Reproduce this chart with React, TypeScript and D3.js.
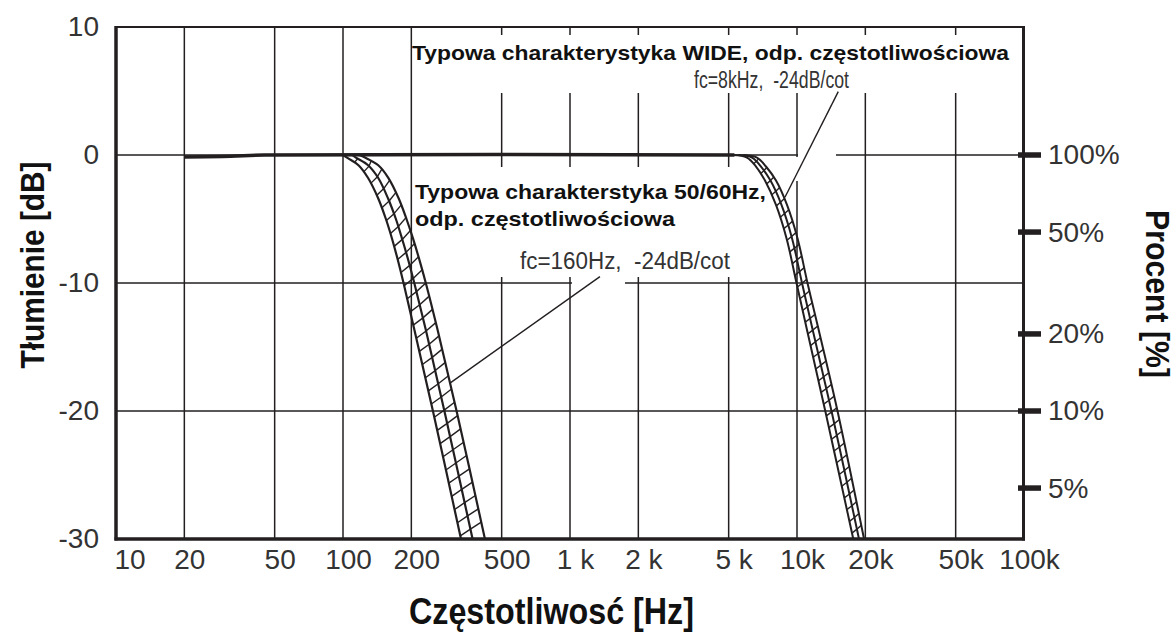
import React, { useEffect, useRef } from 'react'
import * as d3 from 'd3'

const W = 1176
const H = 635

// axes
const freqTicks = [10, 20, 50, 100, 200, 500, 1000, 2000, 5000, 10000, 20000, 50000, 100000]
const freqLabels = ['10', '20', '50', '100', '200', '500', '1 k', '2 k', '5 k', '10k', '20k', '50k', '100k']
const dbTicks = [10, 0, -10, -20, -30]
const pctTicks = [100, 50, 20, 10, 5]

// flat part of both responses (Hz, dB)
const passband = [[20, -0.15], [32, -0.1], [45, 0], [5300, 0]]

// 50/60Hz response, fc=160Hz: lower edge, middle, upper edge
const low50A = [[100, 0], [105, -0.25], [117, -0.8], [129, -1.8], [143, -3.4], [154.5, -5], [164.2, -6.5], [174.4, -8.2], [184.8, -10], [206.5, -13.7], [249, -20], [331, -30]]
const low50B = [[110, 0], [114, -0.2], [129, -0.8], [143, -1.8], [158, -3.4], [171, -5], [182.5, -6.6], [193.8, -8.2], [206.1, -10], [231.9, -13.7], [279.7, -20], [372.3, -30]]
const low50C = [[118, 0], [125, -0.2], [143, -0.8], [158.6, -1.8], [176, -3.4], [190.4, -5], [203.2, -6.5], [216.3, -8.1], [231.6, -10], [261.3, -13.7], [316.5, -20], [422, -30]]

// WIDE response, fc=8kHz
const wideA = [[5200, 0], [6022, -0.2], [6598, -0.9], [7228, -2], [8081, -3.9], [8990, -6.5], [9950, -10], [11045, -13.6], [13322, -20], [17701, -30]]
const wideB = [[5500, 0], [6337, -0.2], [6940, -0.9], [7642, -2], [8544, -3.9], [9506, -6.5], [10520, -10], [11701, -13.6], [14192, -20], [18757, -30]]
const wideC = [[5800, 0], [6665, -0.2], [7302, -0.9], [8081, -2], [9036, -3.9], [10051, -6.5], [11124, -10], [12434, -13.6], [15082, -20], [19740, -30]]

// annotation leader lines (Hz, dB)
const leaderWide = [[15200, 4.95], [8850, -3.3]]
const leader50 = [[1355, -9.5], [297, -17.8]]

const INK = '#231f20'
const FONT = 'Liberation Sans, Arial, sans-serif'

export default function App() {
  const ref = useRef<SVGSVGElement>(null)

  useEffect(() => {
    const svg = d3.select(ref.current)
    svg.selectAll('*').remove()

    const x = d3.scaleLog().domain([10, 100000]).range([116, 1024])
    const y = d3.scaleLinear().domain([-30, 10]).range([539, 27])
    // percent scale tied to the dB scale (20*log10)
    const pct = d3.scaleLog()
      .domain([100 * Math.pow(10, -30 / 20), 100 * Math.pow(10, 10 / 20)])
      .range([539, 27])

    svg.append('rect').attr('width', W).attr('height', H).attr('fill', '#fff')

    // grid
    const grid = svg.append('g').attr('stroke', INK).attr('stroke-width', 1.5)
    grid.selectAll('line.v')
      .data(freqTicks.slice(1, -1))
      .enter().append('line')
      .attr('x1', d => x(d)).attr('x2', d => x(d))
      .attr('y1', y(10)).attr('y2', y(-30))
    grid.selectAll('line.h')
      .data([0, -10, -20])
      .enter().append('line')
      .attr('x1', x(10)).attr('x2', x(100000))
      .attr('y1', d => y(d)).attr('y2', d => y(d))

    // white backgrounds behind annotations
    const masks = [
      [413, 35, 602, 58],
      [413, 167, 357, 110],
      [798, 150, 38, 10],
      [793, 157, 7, 24],
      [572, 278, 53, 10],
    ]
    svg.append('g').selectAll('rect')
      .data(masks)
      .enter().append('rect')
      .attr('x', d => d[0]).attr('y', d => d[1])
      .attr('width', d => d[2]).attr('height', d => d[3])
      .attr('fill', '#fff')

    const line = d3.line<number[]>()
      .x(d => x(d[0]))
      .y(d => y(d[1]))
      .curve(d3.curveCatmullRom.alpha(0.5))

    const plot = svg.append('g')

    plot.append('path')
      .attr('d', line(passband))
      .attr('fill', 'none')
      .attr('stroke', INK)
      .attr('stroke-width', 3.5)

    // three edges of a band plus the ladder hatching between them
    const drawBand = (series: number[][][], width: number, step: number, lag: number) => {
      const g = plot.append('g')
      const paths = series.map(s =>
        g.append('path')
          .attr('d', line(s))
          .attr('fill', 'none')
          .attr('stroke', INK)
          .attr('stroke-width', width)
          .node() as SVGPathElement
      )
      const lens = paths.map(p => p.getTotalLength())
      const n = Math.floor(lens[0] / step)
      for (let i = 1; i <= n; i++) {
        let s = i * step
        let prev = paths[0].getPointAtLength(s)
        for (let k = 1; k < paths.length; k++) {
          s = s * lens[k] / lens[k - 1] - lag
          if (s < 0 || s > lens[k]) break
          const p = paths[k].getPointAtLength(s)
          g.append('line')
            .attr('x1', prev.x).attr('y1', prev.y)
            .attr('x2', p.x).attr('y2', p.y)
            .attr('stroke', INK)
            .attr('stroke-width', 1.4)
          prev = p
        }
      }
    }

    drawBand([low50A, low50B, low50C], 2.2, 13.5, 7)
    drawBand([wideA, wideB, wideC], 2, 12, 4)

    // leader lines
    svg.append('g').selectAll('path')
      .data([leaderWide, leader50])
      .enter().append('path')
      .attr('d', d => d3.line<number[]>().x(p => x(p[0])).y(p => y(p[1]))(d))
      .attr('stroke', INK)
      .attr('stroke-width', 1.4)
      .attr('fill', 'none')

    // frame
    const frame = svg.append('g').attr('stroke', INK)
    frame.append('line').attr('x1', 116).attr('x2', 116).attr('y1', 26).attr('y2', 540.5).attr('stroke-width', 3.5)
    frame.append('line').attr('x1', 114.5).attr('x2', 1025).attr('y1', 539).attr('y2', 539).attr('stroke-width', 3.5)
    frame.append('line').attr('x1', 116).attr('x2', 1024).attr('y1', 27).attr('y2', 27).attr('stroke-width', 2)
    frame.append('line').attr('x1', 1023.5).attr('x2', 1023.5).attr('y1', 26).attr('y2', 540.5).attr('stroke-width', 3)

    // right percent ticks
    frame.selectAll('line.pt')
      .data(pctTicks)
      .enter().append('line')
      .attr('x1', 1018).attr('x2', 1041)
      .attr('y1', d => pct(d)).attr('y2', d => pct(d))
      .attr('stroke-width', 5.5)

    // axis labels
    const yAxis = svg.append('g')
      .attr('transform', 'translate(116,0)')
      .call(d3.axisLeft(y).tickValues(dbTicks).tickSize(0).tickPadding(17).tickFormat(d => String(d)))
    const xAxis = svg.append('g')
      .attr('transform', 'translate(0,539)')
      .call(d3.axisBottom(x).tickValues(freqTicks).tickSize(0).tickPadding(10)
        .tickFormat((d, i) => freqLabels[i]))
    const rAxis = svg.append('g')
      .attr('transform', 'translate(1023,0)')
      .call(d3.axisRight(pct).tickValues(pctTicks).tickSize(0).tickPadding(25).tickFormat(d => d + '%'))

    ;[yAxis, xAxis, rAxis].forEach(a => {
      a.select('.domain').remove()
      a.selectAll('text')
        .attr('font-family', FONT)
        .attr('font-size', 28)
        .attr('fill', '#333')
    })
    xAxis.selectAll('text').attr('dx', 5)
    xAxis.selectAll('text').filter((d, i) => i === 0).attr('text-anchor', 'start').attr('dx', -2)

    // axis titles
    svg.append('text')
      .attr('transform', 'translate(44,265) rotate(-90)')
      .attr('text-anchor', 'middle')
      .attr('font-family', FONT).attr('font-weight', 'bold').attr('font-size', 34)
      .attr('textLength', 207).attr('lengthAdjust', 'spacingAndGlyphs')
      .attr('fill', '#111')
      .text('Tłumienie [dB]')
    svg.append('text')
      .attr('transform', 'translate(1146,294) rotate(90)')
      .attr('text-anchor', 'middle')
      .attr('font-family', FONT).attr('font-weight', 'bold').attr('font-size', 33)
      .attr('textLength', 168).attr('lengthAdjust', 'spacingAndGlyphs')
      .attr('fill', '#111')
      .text('Procent [%]')
    svg.append('text')
      .attr('x', 409).attr('y', 624)
      .attr('font-family', FONT).attr('font-weight', 'bold').attr('font-size', 36)
      .attr('textLength', 285).attr('lengthAdjust', 'spacingAndGlyphs')
      .attr('fill', '#111')
      .text('Częstotliwosć [Hz]')

    // annotations
    const notes = [
      { t: 'Typowa charakterystyka WIDE, odp. częstotliwościowa', x: 412, y: 60, len: 597, bold: true, size: 21 },
      { t: 'fc=8kHz,  -24dB/cot', x: 694, y: 88, len: 155, bold: false, size: 23 },
      { t: 'Typowa charakterstyka 50/60Hz,', x: 415, y: 199, len: 351, bold: true, size: 21 },
      { t: 'odp. częstotliwościowa', x: 415, y: 226, len: 260, bold: true, size: 21 },
      { t: 'fc=160Hz,  -24dB/cot', x: 520, y: 269, len: 210, bold: false, size: 23 },
    ]
    svg.append('g').selectAll('text')
      .data(notes)
      .enter().append('text')
      .attr('x', d => d.x).attr('y', d => d.y)
      .attr('font-family', FONT)
      .attr('font-weight', d => (d.bold ? 'bold' : 'normal'))
      .attr('font-size', d => d.size)
      .attr('textLength', d => d.len).attr('lengthAdjust', 'spacingAndGlyphs')
      .attr('fill', d => (d.bold ? '#111' : '#333'))
      .style('white-space', 'pre')
      .text(d => d.t)
  }, [])

  return (
    <svg
      ref={ref}
      width={W}
      height={H}
      style={{ position: 'absolute', left: 0, top: 0, display: 'block' }}
    />
  )
}
